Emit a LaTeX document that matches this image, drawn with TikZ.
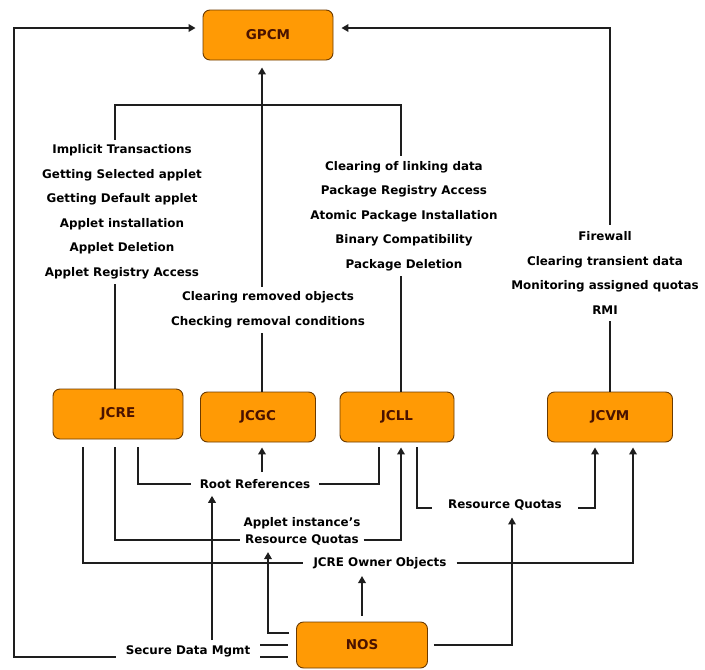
\documentclass[tikz,border=0pt]{standalone}
\usepackage{fontspec}
\setmainfont{DejaVu Sans}
\usetikzlibrary{arrows.meta,calc}
\definecolor{boxfill}{HTML}{FF9A05}
\definecolor{boxline}{HTML}{6B3A00}
\definecolor{boxtext}{HTML}{4A1200}
\definecolor{wire}{HTML}{1E1E1E}
\begin{document}
\begin{tikzpicture}[x=1pt,y=-1pt,
  box/.style={draw=boxline, line width=0.9pt, fill=boxfill, rounded corners=7pt,
    font=\fontsize{13.5}{15}\selectfont\bfseries, text=boxtext, inner sep=0pt},
  lbl/.style={font=\fontsize{11.9}{24.5}\selectfont\bfseries, align=center, inner sep=5pt},
  hl/.style={font=\fontsize{11.9}{17}\selectfont\bfseries, align=center, inner ysep=7pt},
  conn/.style={line width=2.7pt, draw=wire},
  arr/.style={conn, -{Triangle[length=7pt,width=7.5pt]}, shorten >=5pt},
]
\useasboundingbox (0,0) rectangle (705,670);

% boxes
\node[box, minimum width=130pt, minimum height=50pt] (gpcm) at (268,35) {GPCM};
\node[box, minimum width=130pt, minimum height=50pt] (jcre) at (118,414) {JCRE};
\node[box, minimum width=115pt, minimum height=50pt] (jcgc) at (258,417) {JCGC};
\node[box, minimum width=114pt, minimum height=50pt] (jcll) at (397,417) {JCLL};
\node[box, minimum width=125pt, minimum height=50pt] (jcvm) at (610,417) {JCVM};
\node[box, minimum width=131pt, minimum height=46pt] (nos) at (362,645) {NOS};

% label blocks
\node[lbl] (lre) at (122,212) {Implicit Transactions\\Getting Selected applet\\Getting Default applet\\Applet installation\\Applet Deletion\\Applet Registry Access};
\node[lbl] (lgc) at (268,310) {Clearing removed objects\\Checking removal conditions};
\node[lbl] (lll) at (404,216) {Clearing of linking data\\Package Registry Access\\Atomic Package Installation\\Binary Compatibility\\Package Deletion};
\node[lbl, inner ysep=7pt] (lvm) at (605,273) {Firewall\\Clearing transient data\\Monitoring assigned quotas\\RMI};

\node[hl, inner xsep=9pt] (rootref) at (255,484) {Root References};
\node[hl, inner xsep=3pt] (appinst) at (302,531) {Applet instance’s\\Resource Quotas};
\node[hl, inner xsep=10pt] (owner) at (380,563) {JCRE Owner Objects};
\node[hl, inner xsep=16pt] (resq) at (505,505) {Resource Quotas};
\node[hl, inner xsep=10pt, inner ysep=5pt] (secure) at (188,651) {Secure Data Mgmt};

% column / row helpers
\coordinate (xA) at (115,0);
\coordinate (xB) at (262,0);
\coordinate (xC) at (401,0);
\coordinate (xD) at (610,0);
\coordinate (xRE1) at (83,0);
\coordinate (xRE3) at (138,0);
\coordinate (xLL1) at (379,0);
\coordinate (xLL3) at (417,0);
\coordinate (xVM1) at (595,0);
\coordinate (xVM2) at (633,0);
\coordinate (xSD) at (212,0);
\coordinate (xAI) at (268,0);
\coordinate (xRQ) at (512,0);
\coordinate (xO) at (14,0);
\coordinate (yTop) at (0,28);
\coordinate (yBr) at (0,105);
\coordinate (yAI) at (0,540);
\coordinate (yRQ) at (0,508);
\coordinate (yNL) at (0,633);
\coordinate (ySD1) at (0,645);
\coordinate (ySD2) at (0,657);

% top part
\draw[conn] (jcre.north -| xA) -- (lre.south -| xA);
\draw[conn] (lre.north -| xA) |- (yBr -| xC) -- (lll.north -| xC);
\draw[conn] (lll.south -| xC) -- (jcll.north -| xC);
\draw[conn] (jcgc.north -| xB) -- (lgc.south -| xB);
\draw[arr, shorten >=7pt] (lgc.north -| xB) -- (gpcm.south -| xB);
\draw[conn] (jcvm.north -| xD) -- (lvm.south -| xD);
\draw[arr, shorten >=8pt] (lvm.north -| xD) |- (gpcm.east |- yTop);

% root references
\draw[conn, shorten <=8pt] (jcre.south -| xRE3) |- (rootref.west);
\draw[conn, shorten >=5pt] (rootref.east) -| (jcll.south -| xLL1);
\draw[arr] (rootref.north -| xB) -- (jcgc.south -| xB);
\draw[arr, shorten >=0pt] (secure.north -| xSD) -- (rootref.south -| xSD);

% applet instance's resource quotas
\draw[conn, shorten <=8pt] (jcre.south -| xA) |- (yAI -| appinst.west);
\draw[arr] (yAI -| appinst.east) -| (jcll.south -| xC);
\draw[arr, shorten <=7pt, shorten >=0pt] (nos.west |- yNL) -| (appinst.south -| xAI);

% JCRE owner objects
\draw[conn, shorten <=8pt] (jcre.south -| xRE1) |- (owner.west);
\draw[arr] (owner.east) -| (jcvm.south -| xVM2);
\draw[arr, shorten <=6pt, shorten >=0pt] (nos.north) -- (owner.south -| nos.north);

% resource quotas
\draw[conn, shorten <=5pt] (jcll.south -| xLL3) |- (yRQ -| resq.west);
\draw[arr] (yRQ -| resq.east) -| (jcvm.south -| xVM1);
\draw[arr, shorten <=6pt, shorten >=0pt] (nos.east) -| (resq.south -| xRQ);

% secure data mgmt
\draw[conn, shorten >=8pt] (ySD1 -| secure.east) -- (ySD1 -| nos.west);
\draw[conn, shorten >=8pt] (ySD2 -| secure.east) -- (ySD2 -| nos.west);
\draw[arr, shorten >=7pt] (ySD2 -| secure.west) -| (xO |- yTop) -- (gpcm.west |- yTop);
\end{tikzpicture}
\end{document}
